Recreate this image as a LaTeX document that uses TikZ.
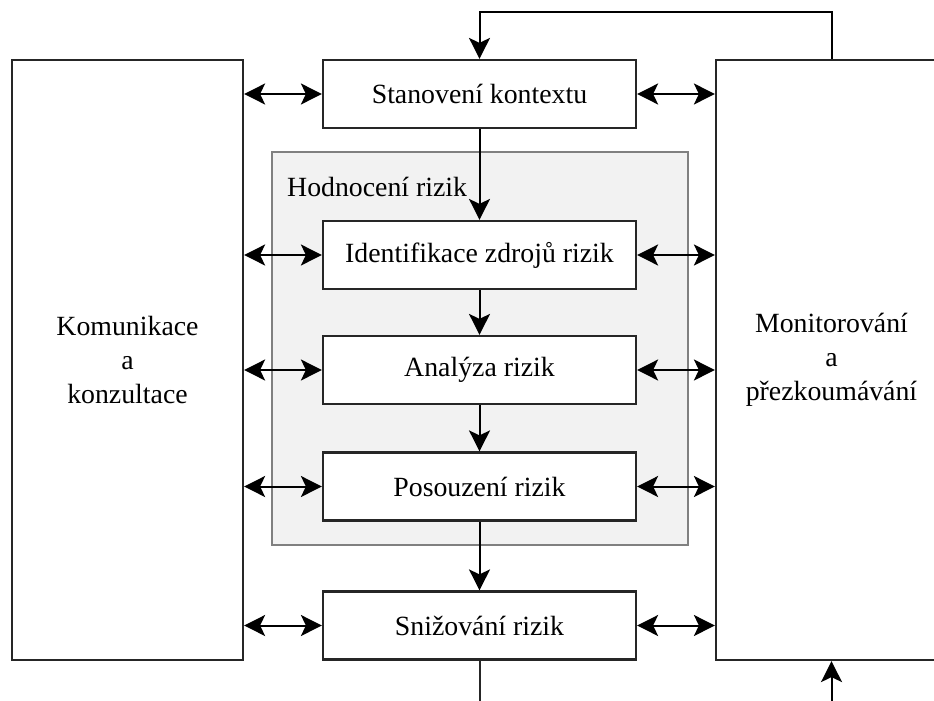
\documentclass[tikz,border=0pt]{standalone}
\usepackage{fontspec}
\setmainfont{Liberation Serif}
\usetikzlibrary{arrows.meta}
\begin{document}
\begin{tikzpicture}[x=1pt,y=-1pt,
  font=\fontsize{27.8}{34}\selectfont,
  box/.style={draw=black!85, line width=2.2pt, fill=white, inner sep=0pt,
    minimum width=313pt, minimum height=68pt, align=center},
  sidebox/.style={draw=black!85, line width=2.2pt, fill=white, inner sep=0pt,
    minimum width=231pt, minimum height=600pt, align=center},
  tip/.tip={Stealth[length=21pt,width=21pt,inset=5pt]},
  arr/.style={line width=2pt, draw=black, -tip},
  darr/.style={line width=2pt, draw=black, tip-tip},
  plain/.style={line width=2pt, draw=black!85}]
\useasboundingbox (0,0) rectangle (934,701);

% evaluation group
\node[draw=black!50, fill=black!5, line width=2.2pt, minimum width=416pt,
  minimum height=393pt, inner sep=0pt] (group) at (480,348.5) {};
\node[anchor=base west, inner sep=0pt] (grouplabel) at (287,196) {Hodnocení rizik};

% side boxes
\node[sidebox] (komunikace) at (127.5,360) {Komunikace\\a\\konzultace};
\node[sidebox] (monitor) at (831.5,360) {Monitorování\\a\\přezkoumávání};

% process steps
\node[box] (kontext) at (479.5,94) {Stanovení kontextu};
\node[box] (ident) at (479.5,255) {Identifikace zdrojů rizik};
\node[box] (analyza) at (479.5,370) {Analýza rizik};
\node[box] (posouzeni) at (479.5,486.5) {Posouzení rizik};
\node[box] (snizovani) at (479.5,625.5) {Snižování rizik};

% main flow
\draw[arr] (kontext.south) -- (ident.north);
\draw[arr] (ident.south) -- (analyza.north);
\draw[arr] (analyza.south) -- (posouzeni.north);
\draw[arr] (posouzeni.south) -- (snizovani.north);
\coordinate (out) at (479.5,705);
\draw[plain] (snizovani.south) -- (out);

% feedback from monitoring back to context
\draw[arr] (monitor.north) -- ++(0,-47) -| (kontext.north);
\coordinate (in) at (831.5,705);
\draw[arr] (in) -- (monitor.south);

% links to communication and monitoring
\foreach \n in {kontext,ident,analyza,posouzeni,snizovani}{
  \draw[darr] (komunikace.east |- \n.west) -- (\n.west);
  \draw[darr] (\n.east) -- (monitor.west |- \n.east);
}
\end{tikzpicture}
\end{document}
